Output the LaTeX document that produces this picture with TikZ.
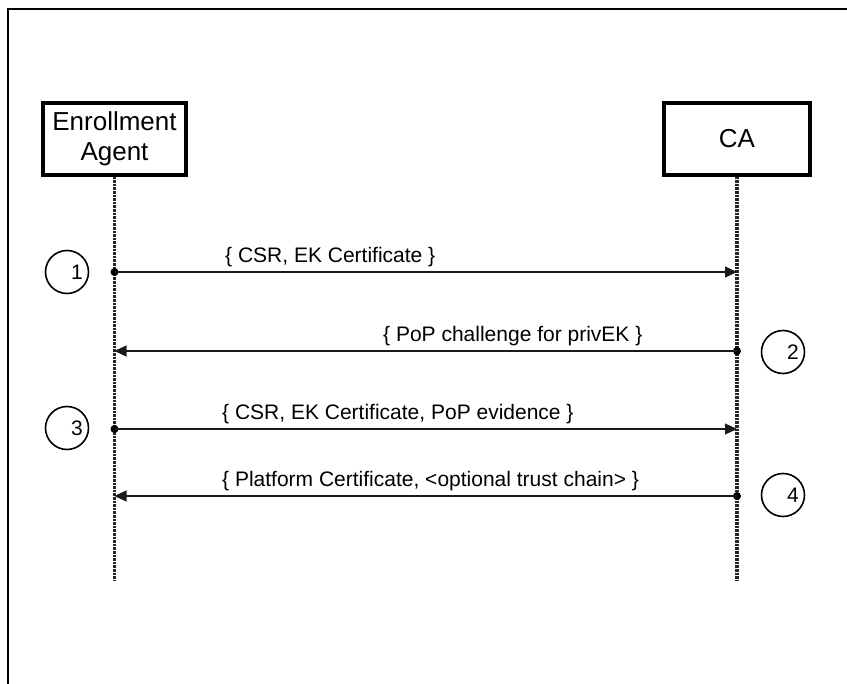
\documentclass[tikz,border=0pt]{standalone}
\usepackage{fontspec}
\setmainfont{Liberation Sans}
\usetikzlibrary{arrows.meta}
\begin{document}
\begin{tikzpicture}[x=1pt,y=-1pt,
  actor/.style={draw, line width=3.4pt, minimum height=72pt, align=center,
    font=\fontsize{26}{30}\selectfont, inner sep=0pt},
  lifeline/.style={line width=3.2pt, black!85, dash pattern=on 2.6pt off 1pt},
  msg/.style={line width=1.1pt, black!90, -{Triangle[length=12pt,width=11pt]}},
  lbl/.style={font=\fontsize{21}{24}\selectfont, anchor=base west, inner sep=0pt},
  stepmark/.style={circle, draw, line width=1.6pt, minimum size=43pt, inner sep=0pt,
    font=\fontsize{21}{24}\selectfont},
  origin/.style={fill, circle, inner sep=0pt, minimum size=8pt}
]
\useasboundingbox (0,0) rectangle (847,684);

% outer frame (top and left edges)
\draw[line width=2.6pt] (8,684) -- (8,9) -- (847,9);

% participants
\node[actor, minimum width=143pt] (ea) at (114.5,139) {Enrollment\\Agent};
\node[actor, minimum width=146pt] (ca) at (737,139) {CA};

% lifelines
\coordinate (ea-end) at (ea.south |- 0,580);
\coordinate (ca-end) at (ca.south |- 0,580);
\draw[lifeline] (ea.south) -- (ea-end);
\draw[lifeline] (ca.south) -- (ca-end);

% message end points on the lifelines
\foreach \i/\y in {1/272, 2/351, 3/429, 4/496} {
  \coordinate (a\i) at (ea.south |- 0,\y);
  \coordinate (c\i) at (ca.south |- 0,\y);
}

% 1: request
\node[origin] (o1) at (a1) {};
\draw[msg] (o1.center) -- (c1);
\node[lbl] (l1) at (225,263) {\{ CSR, EK Certificate \}};

% 2: challenge
\node[origin] (o2) at (c2) {};
\draw[msg] (o2.center) -- (a2);
\node[lbl] (l2) at (383,342) {\{ PoP challenge for privEK \}};

% 3: evidence
\node[origin] (o3) at (a3) {};
\draw[msg] (o3.center) -- (c3);
\node[lbl] (l3) at (222,420) {\{ CSR, EK Certificate, PoP evidence \}};

% 4: issued certificate
\node[origin] (o4) at (c4) {};
\draw[msg] (o4.center) -- (a4);
\node[lbl] (l4) at (222,487) {\{ Platform Certificate, <optional trust chain> \}};

% step numbers
\node[stepmark] (s1) at (67,272) {\hspace{20pt}1};
\node[stepmark] (s2) at (783,352) {\hspace{20pt}2};
\node[stepmark] (s3) at (67,428) {\hspace{20pt}3};
\node[stepmark] (s4) at (783,495) {\hspace{20pt}4};
\end{tikzpicture}
\end{document}
